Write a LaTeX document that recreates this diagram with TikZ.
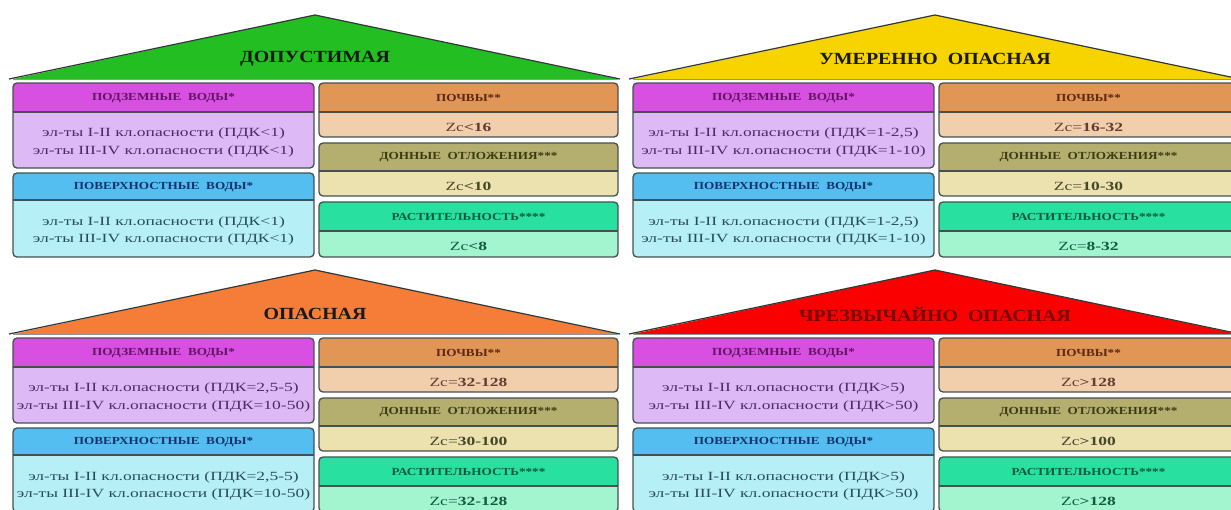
\documentclass[tikz,border=0pt]{standalone}
\usepackage{fontspec}
\setmainfont{Liberation Serif}
\newfontfamily\headf{Liberation Serif}[FakeStretch=1.22]
\newfontfamily\titlef{Liberation Serif}[FakeStretch=1.17]
\newfontfamily\bodyf{Liberation Serif}[FakeStretch=1.4]
\definecolor{roofG}{RGB}{34,190,34}
\definecolor{roofY}{RGB}{247,212,0}
\definecolor{roofO}{RGB}{245,125,55}
\definecolor{roofR}{RGB}{250,0,0}
\definecolor{lineC}{RGB}{70,80,80}
\definecolor{pwH}{RGB}{215,80,225}\definecolor{pwB}{RGB}{221,186,245}
\definecolor{pwT}{RGB}{100,20,100}\definecolor{pwU}{RGB}{80,40,100}
\definecolor{swH}{RGB}{85,190,240}\definecolor{swB}{RGB}{182,240,246}
\definecolor{swT}{RGB}{20,50,110}\definecolor{swU}{RGB}{40,75,90}
\definecolor{soH}{RGB}{225,150,85}\definecolor{soB}{RGB}{241,206,172}
\definecolor{soT}{RGB}{90,40,20}\definecolor{soU}{RGB}{100,60,50}
\definecolor{seH}{RGB}{180,175,110}\definecolor{seB}{RGB}{236,226,176}
\definecolor{seT}{RGB}{60,60,20}\definecolor{seU}{RGB}{70,70,40}
\definecolor{veH}{RGB}{40,225,160}\definecolor{veB}{RGB}{162,245,207}
\definecolor{veT}{RGB}{10,90,60}\definecolor{veU}{RGB}{20,90,60}
\definecolor{titleC}{RGB}{25,25,25}
\definecolor{titleR}{RGB}{120,0,0}
\tikzset{
  boxline/.style={draw=lineC,line width=1.3pt},
  roofline/.style={draw=lineC!70!black,line width=1.2pt,line join=miter},
  headtext/.style={inner sep=0pt,font=\headf\bfseries\fontsize{10.8}{12}\selectfont},
  bodytext/.style={inner sep=0pt,align=center,font=\bodyf\fontsize{12.5}{17.5}\selectfont},
  titletext/.style={inner sep=0pt,font=\titlef\bfseries\fontsize{17}{19}\selectfont},
}
% #1 x1, #2 y1, #3 x2, #4 ym, #5 y2, #6 colour set, #7 name, #8 header, #9 body
\newcommand\cbox[9]{%
  \begin{scope}
    \clip[rounded corners=4pt] (#1,#2) rectangle (#3,#5);
    \fill[#6H] (#1,#2) rectangle (#3,#4);
    \fill[#6B] (#1,#4) rectangle (#3,#5);
  \end{scope}
  \draw[boxline,rounded corners=4pt] (#1,#2) rectangle (#3,#5);
  \draw[boxline] (#1,#4) -- (#3,#4);
  \node[headtext,text=#6T] (#7h) at ({(#1+#3)/2},{(#4+#2)/2+0.5}) {#8};
  \node[bodytext,text=#6U] (#7b) at ({(#1+#3)/2},{(#4+#5)/2+2.5}) {#9};
}
\newcommand\roof[4]{% #1 colour, #2 name, #3 title, #4 title colour
  \fill[#1] (13,79) -- (315,15) -- (618,79) -- cycle;
  \draw[roofline] (9,79) -- (315,15) -- (620,79);
  \draw[lineC!60,line width=0.6pt] (13,79) -- (618,79);
  \node[titletext,text=#4] (#2) at (315,59) {#3};
}
\newcommand\pwtext{ПОДЗЕМНЫЕ\ \ ВОДЫ*}
\newcommand\swtext{ПОВЕРХНОСТНЫЕ\ \ ВОДЫ*}
\newcommand\sotext{ПОЧВЫ**}
\newcommand\setext{ДОННЫЕ\ \ ОТЛОЖЕНИЯ***}
\newcommand\vetext{РАСТИТЕЛЬНОСТЬ****}
\begin{document}
\begin{tikzpicture}[x=1pt,y=-1pt]
\useasboundingbox (0,0) rectangle (1231,509);
\clip (0,0) rectangle (1231,509);
\fill[white] (0,0) rectangle (1231,509);
% panel 1
\begin{scope}
  \roof{roofG}{t1}{ДОПУСТИМАЯ}{titleC}
  \cbox{13}{83}{314}{112}{168}{pw}{a1}{\pwtext}{эл-ты I-II кл.опасности (ПДК<1)\\эл-ты III-IV кл.опасности (ПДК<1)}
  \cbox{13}{173}{314}{200}{257}{sw}{a2}{\swtext}{эл-ты I-II кл.опасности (ПДК<1)\\эл-ты III-IV кл.опасности (ПДК<1)}
  \cbox{319}{83}{618}{112}{137}{so}{a3}{\sotext}{Zc\textbf{<16}}
  \cbox{319}{143}{618}{171}{196}{se}{a4}{\setext}{Zc\textbf{<10}}
  \cbox{319}{202}{618}{231}{257}{ve}{a5}{\vetext}{Zc\textbf{<8}}
\end{scope}
% panel 2
\begin{scope}[shift={(620,0)}]
  \roof{roofY}{t2}{УМЕРЕННО\ \ ОПАСНАЯ}{titleC}
  \cbox{13}{83}{314}{112}{168}{pw}{b1}{\pwtext}{эл-ты I-II кл.опасности (ПДК=1-2,5)\\эл-ты III-IV кл.опасности (ПДК=1-10)}
  \cbox{13}{173}{314}{200}{257}{sw}{b2}{\swtext}{эл-ты I-II кл.опасности (ПДК=1-2,5)\\эл-ты III-IV кл.опасности (ПДК=1-10)}
  \cbox{319}{83}{618}{112}{137}{so}{b3}{\sotext}{Zc=\textbf{16-32}}
  \cbox{319}{143}{618}{171}{196}{se}{b4}{\setext}{Zc=\textbf{10-30}}
  \cbox{319}{202}{618}{231}{257}{ve}{b5}{\vetext}{Zc=\textbf{8-32}}
\end{scope}
% panel 3
\begin{scope}[shift={(0,255)}]
  \roof{roofO}{t3}{ОПАСНАЯ}{titleC}
  \cbox{13}{83}{314}{112}{168}{pw}{c1}{\pwtext}{эл-ты I-II кл.опасности (ПДК=2,5-5)\\эл-ты III-IV кл.опасности (ПДК=10-50)}
  \cbox{13}{173}{314}{200}{257}{sw}{c2}{\swtext}{эл-ты I-II кл.опасности (ПДК=2,5-5)\\эл-ты III-IV кл.опасности (ПДК=10-50)}
  \cbox{319}{83}{618}{112}{137}{so}{c3}{\sotext}{Zc=\textbf{32-128}}
  \cbox{319}{143}{618}{171}{196}{se}{c4}{\setext}{Zc=\textbf{30-100}}
  \cbox{319}{202}{618}{231}{257}{ve}{c5}{\vetext}{Zc=\textbf{32-128}}
\end{scope}
% panel 4
\begin{scope}[shift={(620,255)}]
  \roof{roofR}{t4}{ЧРЕЗВЫЧАЙНО\ \ ОПАСНАЯ}{titleR}
  \cbox{13}{83}{314}{112}{168}{pw}{d1}{\pwtext}{эл-ты I-II кл.опасности (ПДК>5)\\эл-ты III-IV кл.опасности (ПДК>50)}
  \cbox{13}{173}{314}{200}{257}{sw}{d2}{\swtext}{эл-ты I-II кл.опасности (ПДК>5)\\эл-ты III-IV кл.опасности (ПДК>50)}
  \cbox{319}{83}{618}{112}{137}{so}{d3}{\sotext}{Zc\textbf{>128}}
  \cbox{319}{143}{618}{171}{196}{se}{d4}{\setext}{Zc\textbf{>100}}
  \cbox{319}{202}{618}{231}{257}{ve}{d5}{\vetext}{Zc\textbf{>128}}
\end{scope}
\end{tikzpicture}
\end{document}
